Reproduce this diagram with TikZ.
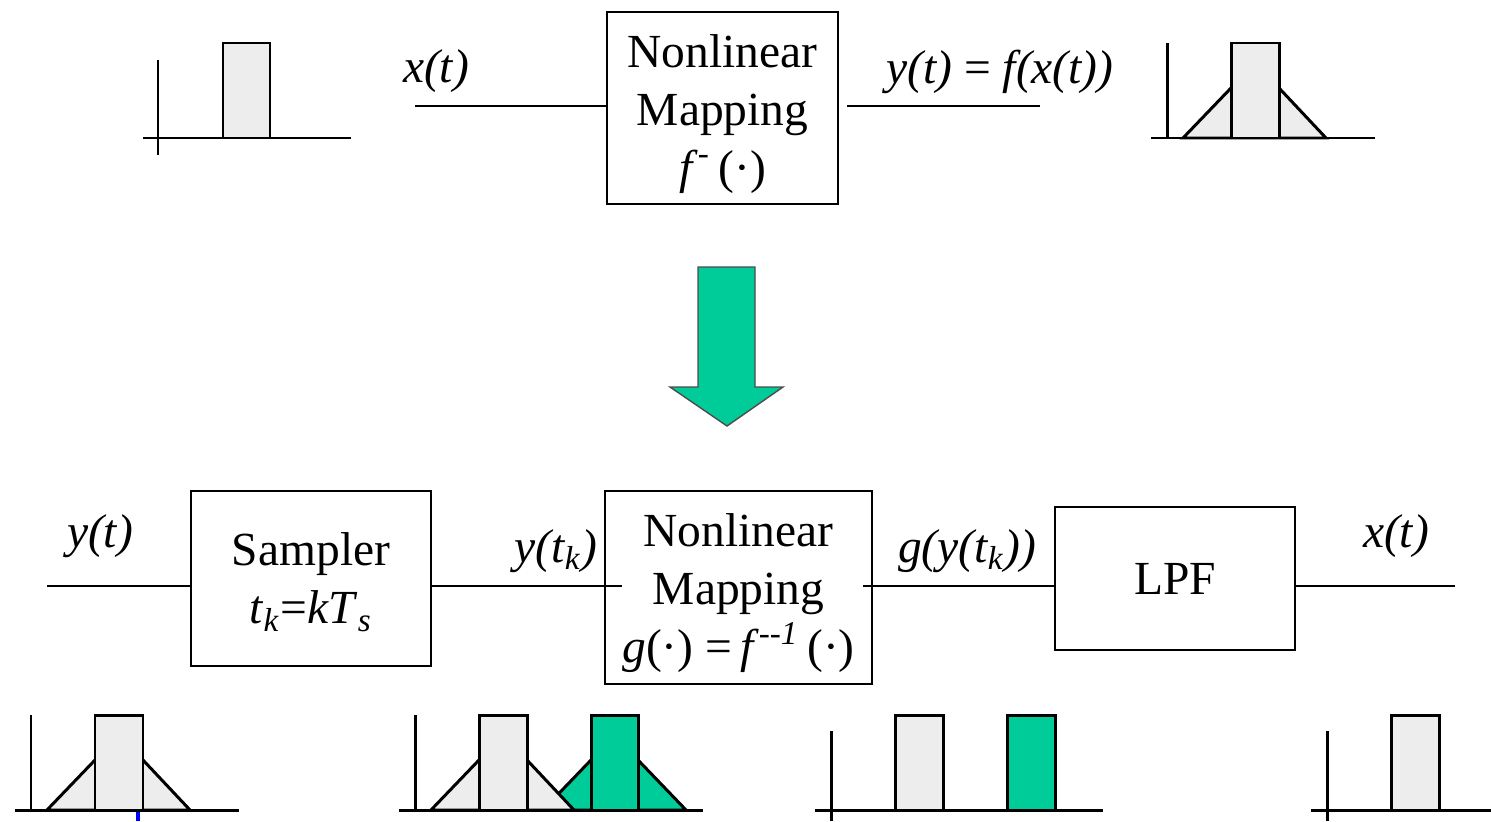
\documentclass[tikz,border=0pt]{standalone}
\usepackage{fontspec}
\setmainfont{Liberation Serif}
\usetikzlibrary{positioning}

\definecolor{sigreen}{RGB}{0,204,153}

\begin{document}
\begin{tikzpicture}[
    x=0.01cm, y=-0.01cm,
    block/.style={draw=black, line width=0.6pt, inner sep=0pt, align=center,
      font=\fontsize{13.5}{16.5}\selectfont},
    wire/.style={draw=black, line width=0.6pt},
    sig/.style={font=\fontsize{13.5}{16.5}\selectfont\itshape},
    axis/.style={draw=black, line width=0.85pt},
    pulse/.style={draw=black, line width=0.85pt, fill=gray!14},
    gpulse/.style={draw=black, line width=0.85pt, fill=sigreen},
]
\useasboundingbox (0,0) rectangle (1491,821);

% ---------------------------------------------------------
% Original system: y(t) = f(x(t))
% ---------------------------------------------------------
\node[block, minimum width=2.31cm, minimum height=1.92cm] (map1) at (722.5,108)
  {\rule{0pt}{12.6pt}Nonlinear\\Mapping\\\textit{f}\textsuperscript{-}\,(·)};

\coordinate (xin) at (415,106);
\coordinate (yout) at (1040,106);
\draw[wire] (xin) -- (xin -| map1.west);
\draw[wire] ([xshift=0.08cm]map1.east |- yout) -- (yout);

\node[sig] (xlab) at (436,71) {x(t)};
\node[sig] (ylab) at (1000,72) {y(t) \upshape= \itshape f(x(t))};

% input spectrum
\begin{scope}[shift={(158,138)}]
  \draw[axis] (0,-78) -- (0,17);
  \draw[axis] (-15,0) -- (193,0);
  \filldraw[pulse] (65,0) rectangle (112,-95);
\end{scope}

% output spectrum
\begin{scope}[shift={(1167,138)}]
  \draw[axis] (0,-95) -- (0,0);
  \draw[axis] (-16,0) -- (208,0);
  \filldraw[pulse] (16,0) -- (64,-50) -- (112,-50) -- (159,0) -- cycle;
  \filldraw[pulse] (64,0) rectangle (112,-95);
\end{scope}

% ---------------------------------------------------------
% Big arrow
% ---------------------------------------------------------
\filldraw[fill=sigreen, draw=black!70, line width=0.4pt]
  (698,267) -- (755,267) -- (755,387) -- (783,387) -- (727,426)
  -- (670,387) -- (698,387) -- cycle;

% ---------------------------------------------------------
% Recovery chain: sampler, inverse mapping, LPF
% ---------------------------------------------------------
\node[block, minimum width=2.40cm, minimum height=1.75cm] (samp) at (311,578.5)
  {\rule{0pt}{11.5pt}Sampler\\\textit{t}\textsubscript{\textit{k}}=\textit{kT}\textsubscript{\textit{s}}};
\node[block, minimum width=2.67cm, minimum height=1.93cm] (map2) at (738.5,587.5)
  {\rule{0pt}{12.6pt}Nonlinear\\Mapping\\\textit{g}(·) =\,\textit{f}\textsuperscript{\textit{{-}{-}1}}\,(·)};
\node[block, minimum width=2.40cm, minimum height=1.43cm] (lpf) at (1175,578.5)
  {LPF};

\coordinate (yin) at (47,586);
\coordinate (xout) at (1455,586);
\draw[wire] (yin) -- (yin -| samp.west);
\draw[wire] (samp.east |- yin) -- ([xshift=0.18cm]map2.west |- yin);
\draw[wire] ([xshift=-0.1cm]map2.east |- yin) -- (yin -| lpf.west);
\draw[wire] (yin -| lpf.east) -- (xout);

\node[sig] (ytlab) at (100,536) {y(t)};
\node[sig] (yklab) at (556,551) {y(t\textsubscript{k})};
\node[sig] (glab) at (967,551) {g(y(t\textsubscript{k}))};
\node[sig] (xtlab) at (1396,536) {x(t)};

% spectra below the chain
\begin{scope}[shift={(31,810)}]
  \draw[axis] (0,-95) -- (0,0);
  \draw[axis] (-16,0) -- (208,0);
  \filldraw[pulse] (16,0) -- (64,-50) -- (112,-50) -- (159,0) -- cycle;
  \filldraw[pulse] (64,0) rectangle (112,-95);
\end{scope}
\draw[blue, line width=1pt] (138,812) -- (138,821);

\begin{scope}[shift={(415,810)}]
  \draw[axis] (0,-95) -- (0,0);
  \draw[axis] (-16,0) -- (288,0);
  \filldraw[gpulse] (128,0) -- (176,-50) -- (223,-50) -- (271,0) -- cycle;
  \filldraw[pulse] (16,0) -- (64,-50) -- (112,-50) -- (159,0) -- cycle;
  \filldraw[pulse] (64,0) rectangle (112,-95);
  \filldraw[gpulse] (176,0) rectangle (223,-95);
\end{scope}

\begin{scope}[shift={(831,810)}]
  \draw[axis] (0,-79) -- (0,11);
  \draw[axis] (-16,0) -- (272,0);
  \filldraw[pulse] (64,0) rectangle (112,-95);
  \filldraw[gpulse] (176,0) rectangle (224,-95);
\end{scope}

\begin{scope}[shift={(1327,810)}]
  \draw[axis] (0,-79) -- (0,11);
  \draw[axis] (-16,0) -- (164,0);
  \filldraw[pulse] (64,0) rectangle (112,-95);
\end{scope}

\end{tikzpicture}
\end{document}
